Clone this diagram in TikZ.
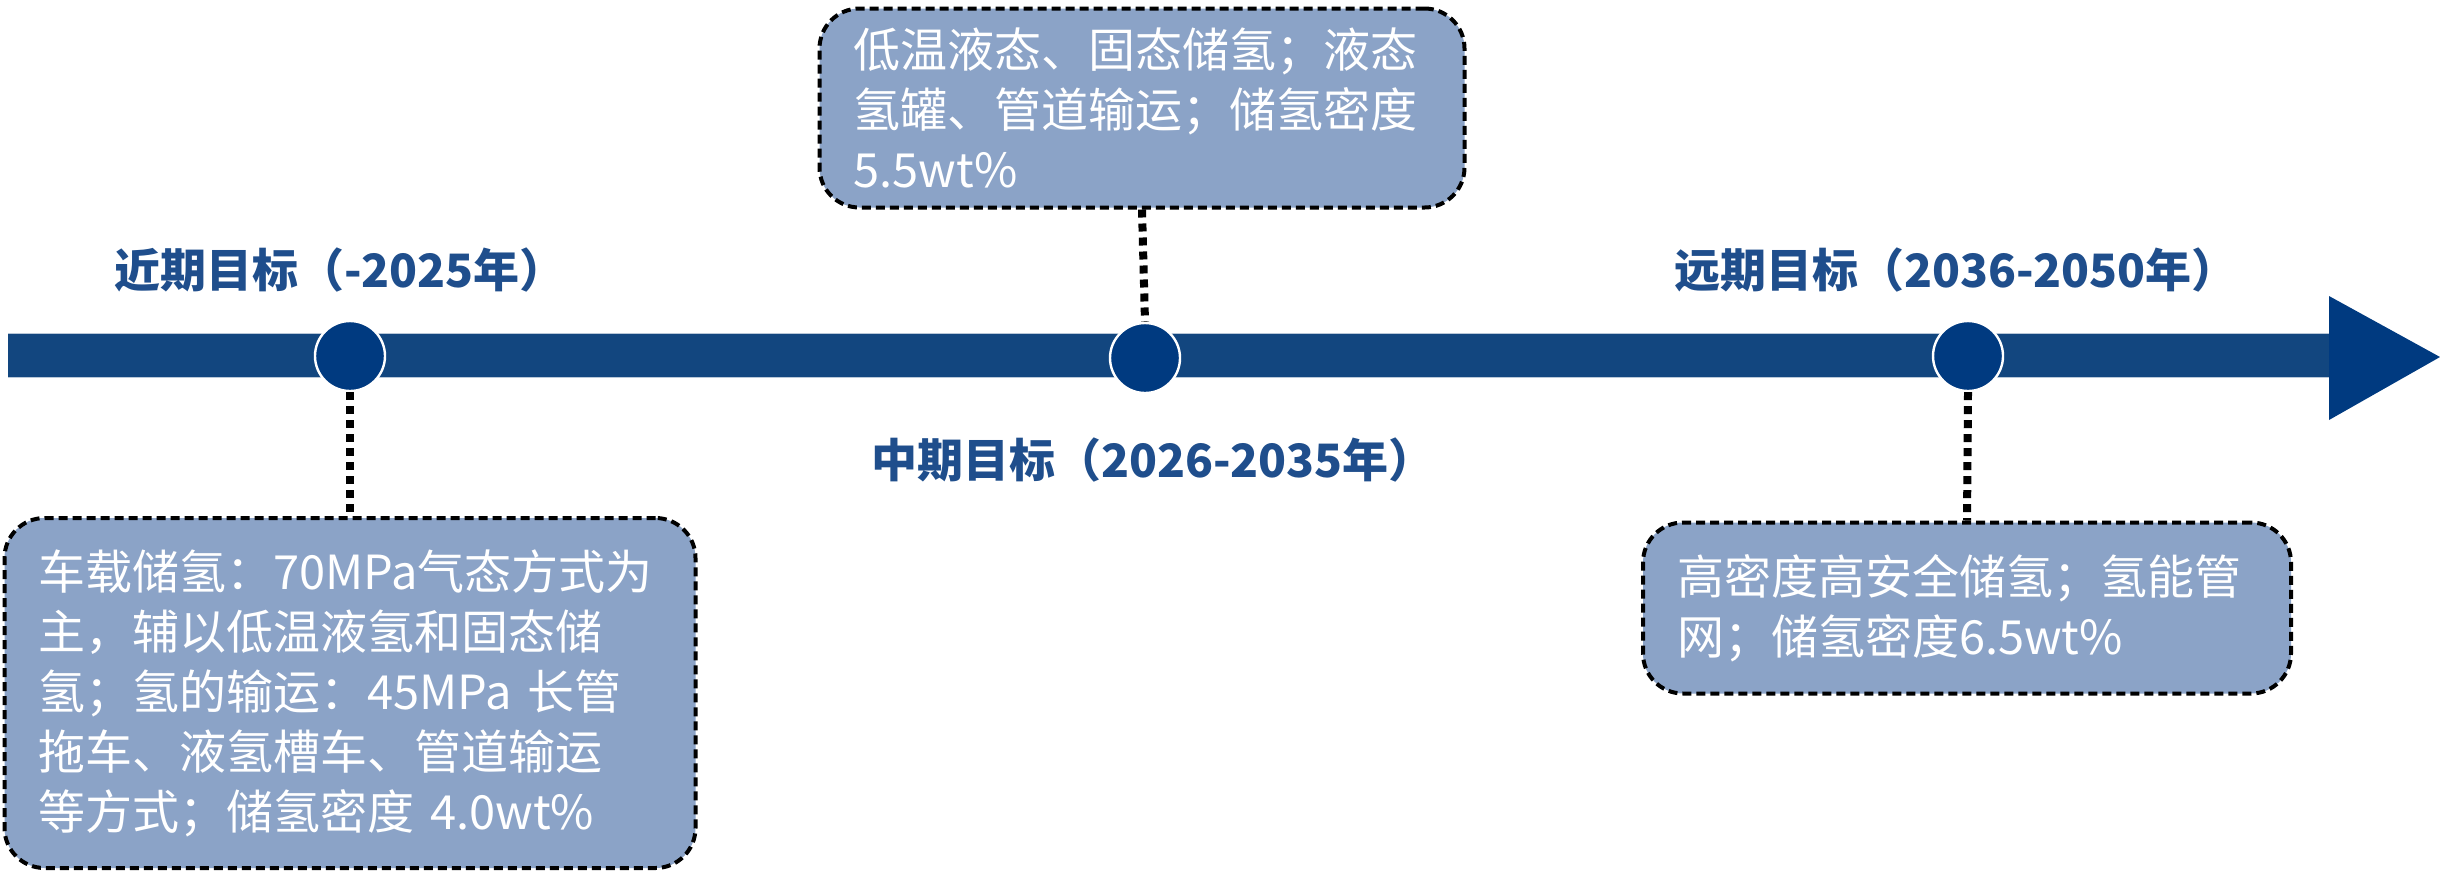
\documentclass[tikz,border=0pt]{standalone}
\usepackage{fontspec}
\newfontfamily\cjk{Noto Sans CJK SC}
\definecolor{barblue}{HTML}{12467F}
\definecolor{dotblue}{HTML}{003A80}
\definecolor{labblue}{HTML}{1F4E8C}
\definecolor{boxfill}{HTML}{8BA3C7}
\tikzset{
  dotnode/.style={circle, fill=dotblue, draw=white, line width=1.2pt, minimum size=35pt, inner sep=0pt},
  lab/.style={font=\cjk\bfseries\fontsize{23pt}{27pt}\selectfont, text=labblue, inner sep=0pt},
  infobox/.style={draw=black, line width=2pt, dash pattern=on 4.5pt off 2.5pt, fill=boxfill, rounded corners=20pt,
    text=white, align=left, inner xsep=17pt, inner ysep=0pt,
    font=\cjk\fontsize{23.5pt}{30pt}\selectfont},
  dotline/.style={draw=black, line width=4pt, dash pattern=on 4pt off 3pt}
}
\begin{document}
\begin{tikzpicture}[x=0.5pt,y=-0.5pt]
\useasboundingbox (0,0) rectangle (2440,875);
% timeline bar and arrowhead
\fill[barblue] (8,333) rectangle (2331,377);
\draw[white!70!barblue, line width=0.5pt] (8,333) -- (2331,333) (8,377) -- (2331,377);
\fill[dotblue] (2329,296) -- (2440,357) -- (2329,420) -- cycle;
% milestones
\node[dotnode] (c1) at (350,356) {};
\node[dotnode] (c2) at (1145,358) {};
\node[dotnode] (c3) at (1968,356) {};
% labels
\node[lab] (l1) at (340,270) {近期目标（-2025年）};
\node[lab] (l2) at (1153,460) {中期目标（2026-2035年）};
\node[lab] (l3) at (1956,270) {远期目标（2036-2050年）};
% boxes
\node[infobox, text width=311.5pt, minimum height=175pt] (b1) at (350,693)
  {车载储氢：70MPa气态方式为\\主，辅以低温液氢和固态储\\氢；氢的输运：45MPa 长管\\拖车、液氢槽车、管道输运\\等方式；储氢密度 4.0wt\%};
\node[infobox, text width=288.5pt, minimum height=99.5pt] (b2) at (1142,108)
  {低温液态、固态储氢；液态\\氢罐、管道输运；储氢密度\\5.5wt\%};
\node[infobox, text width=290pt, minimum height=85.5pt] (b3) at (1967,608)
  {高密度高安全储氢；氢能管\\网；储氢密度6.5wt\%};
% connectors
\draw[dotline] (c1.south) -- (b1.north);
\draw[dotline] (b2.south) -- (c2.north);
\draw[dotline] (c3.south) -- (b3.north);
\end{tikzpicture}
\end{document}
